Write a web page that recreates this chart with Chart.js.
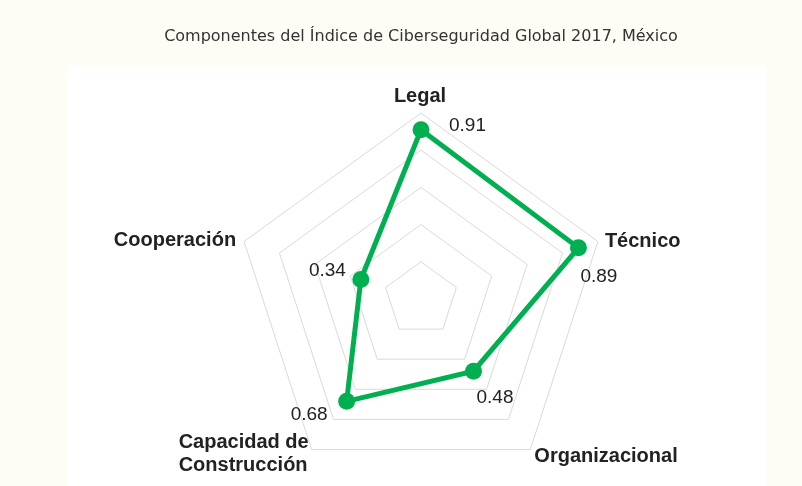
<!DOCTYPE html>
<html>
<head>
<meta charset="utf-8">
<script src="https://cdn.jsdelivr.net/npm/chart.js@4.4.1/dist/chart.umd.min.js"></script>
<style>
  html, body { margin: 0; padding: 0; background: #fefcf4; }
  #wrap { position: relative; width: 802px; height: 486px; }
  #caja { position: absolute; left: 67px; top: 65px; width: 700px; height: 421px; background: #ffffff; }
  canvas { position: absolute; left: 0; top: 0; }
</style>
</head>
<body>
<div id="wrap">
  <div id="caja"></div>
  <canvas id="radarMexico" width="802" height="486"></canvas>
</div>
<script>
// Componentes del GCI 2017 (México)
const componentes = ["Legal", "Técnico", "Organizacional", ["Capacidad de", "Construcción"], "Cooperación"];
const valores = [0.91, 0.89, 0.48, 0.68, 0.34];
const etiquetas = ["0.91", "0.89", "0.48", "0.68", "0.34"];

// donde va cada numero respecto a su punto
const desplaz = [
	{ dx: 28, dy: -4, align: "left" },
	{ dx: 2, dy: 29, align: "left" },
	{ dx: 3, dy: 27, align: "left" },
	{ dx: -19, dy: 13, align: "right" },
	{ dx: -15, dy: -9, align: "right" }
];

// nombres de los ejes, respecto al vertice exterior
const posNombres = [
	{ dx: -1, dy: -17, align: "center" },
	{ dx: 7, dy: 0, align: "left" },
	{ dx: 4, dy: 7, align: "left" },
	{ dx: -133, dy: -7, align: "left" },
	{ dx: -8, dy: -1, align: "right" }
];

const etiquetasValor = {
	id: "etiquetasValor",
	afterDatasetsDraw(chart) {
		const ctx = chart.ctx;
		const meta = chart.getDatasetMeta(0);
		const r = chart.scales.r;
		ctx.save();
		ctx.textBaseline = "middle";

		// nombres de componentes
		ctx.font = "bold 20px 'Liberation Sans', Arial, sans-serif";
		ctx.fillStyle = "#222222";
		componentes.forEach((nombre, i) => {
			const v = r.getPointPosition(i, r.drawingArea);
			const d = posNombres[i];
			const lineas = Array.isArray(nombre) ? nombre : [nombre];
			ctx.textAlign = d.align;
			lineas.forEach((t, k) => {
				ctx.fillText(t, v.x + d.dx, v.y + d.dy + k * 23);
			});
		});

		// valores
		ctx.font = "19px 'Liberation Sans', Arial, sans-serif";
		meta.data.forEach((p, i) => {
			const d = desplaz[i];
			ctx.textAlign = d.align;
			ctx.fillText(etiquetas[i], p.x + d.dx, p.y + d.dy);
		});
		ctx.restore();
	}
};

const ctx = document.getElementById("radarMexico").getContext("2d");
new Chart(ctx, {
	type: "radar",
	data: {
		labels: componentes,
		datasets: [{
			data: valores,
			borderColor: "#00b050",
			backgroundColor: "rgba(0,0,0,0)",
			borderWidth: 5,
			pointRadius: 8.5,
			pointBackgroundColor: "#00b050",
			pointBorderColor: "#00b050",
			pointBorderWidth: 0,
			fill: false
		}]
	},
	options: {
		responsive: false,
		animation: false,
		layout: { padding: { left: 40, right: 0, top: 0, bottom: 1 } },
		plugins: {
			legend: { display: false },
			tooltip: { enabled: false },
			title: {
				display: true,
				text: "Componentes del Índice de Ciberseguridad Global 2017, México",
				color: "#333333",
				font: { family: "'DejaVu Sans', sans-serif", size: 16, weight: "normal", lineHeight: 1.2 },
				padding: { top: 27, bottom: 66.8 }
			}
		},
		scales: {
			r: {
				min: 0,
				max: 1,
				ticks: { stepSize: 0.2, display: false },
				angleLines: { display: false },
				grid: { color: "#d9d9d9", lineWidth: 1 },
				pointLabels: { display: false }
			}
		}
	},
	plugins: [etiquetasValor]
});
</script>
</body>
</html>
